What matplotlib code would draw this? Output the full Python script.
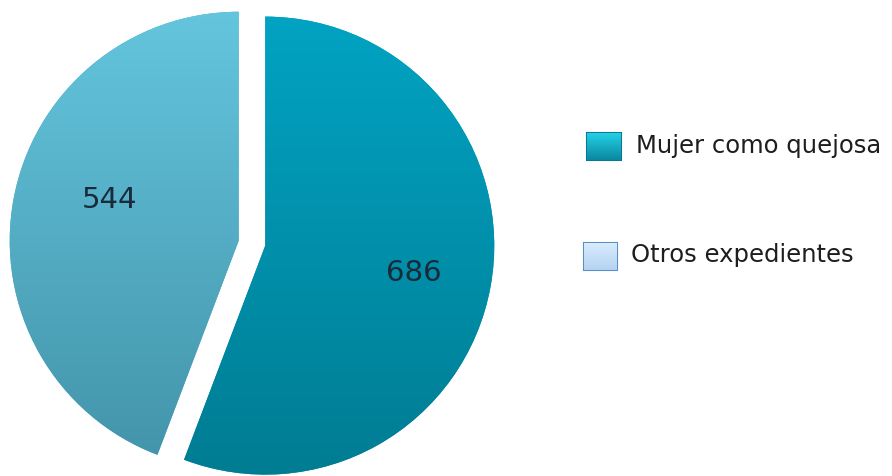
import numpy as np
import matplotlib
matplotlib.use("Agg")
import matplotlib.pyplot as plt
from matplotlib.colors import LinearSegmentedColormap
from matplotlib.patches import Rectangle

categories = ["Mujer como quejosa", "Otros expedientes"]
values = [686, 544]
value_labels = ["686", "544"]

W, H = 892, 476
fig = plt.figure(figsize=(W / 100, H / 100), dpi=100)
ax = fig.add_axes([0, 0, 1, 1])

top_colors = ["#02a4c4", "#64c6de"]
bot_colors = ["#007c92", "#4292a8"]
mid_colors = ["#0094b0", "#54b0c8"]

cx, cy, r = 251, H - 243, 229
wedges, _ = ax.pie(values, startangle=90, counterclock=False,
                   colors=mid_colors, center=(cx, cy), radius=r,
                   explode=[14.5, 12.5], frame=True,
                   wedgeprops=dict(linewidth=0))
ax.set_xlim(0, W)
ax.set_ylim(0, H)
ax.set_aspect("equal")
ax.axis("off")

for w, tc, bc in zip(wedges, top_colors, bot_colors):
    cmap = LinearSegmentedColormap.from_list("g", [bc, tc])
    grad = np.linspace(0, 1, 256).reshape(-1, 1)
    im = ax.imshow(grad, cmap=cmap, extent=[0, W, cy - r - 10, cy + r + 10],
                   origin="lower", aspect="auto", zorder=w.get_zorder() + 0.1)
    im.set_clip_path(w)

ax.text(414, H - 273, value_labels[0], ha="center", va="center",
        fontsize=21, color="#1a2a3a", zorder=5)
ax.text(110, H - 200, value_labels[1], ha="center", va="center",
        fontsize=21, color="#1a2a3a", zorder=5)

# legend
sq = [(587, 133, 34, 27), (584, 243, 33, 27)]
sq_top = ["#22d0e6", "#d8ecfc"]
sq_bot = ["#0a88a0", "#b4d2f2"]
sq_edge = ["#0a7890", "#5b8ec4"]
txt_pos = [(636, 146), (631, 255)]
for (x, y, w_, h_), tc, bc, ec, (tx, ty), lab in zip(sq, sq_top, sq_bot, sq_edge, txt_pos, categories):
    rect = Rectangle((x, H - y - h_), w_, h_, facecolor=bc, edgecolor=ec, linewidth=1.5, zorder=4)
    ax.add_patch(rect)
    cmap = LinearSegmentedColormap.from_list("s", [bc, tc])
    grad = np.linspace(0, 1, 64).reshape(-1, 1)
    im = ax.imshow(grad, cmap=cmap, extent=[x, x + w_, H - y - h_, H - y],
                   origin="lower", aspect="auto", zorder=4.1)
    im.set_clip_path(rect)
    ax.text(tx, H - ty, lab, ha="left", va="center", fontsize=17.5, color="#1e1e1e", zorder=5)

ax.set_xlim(0, W)
ax.set_ylim(0, H)
fig.savefig("out.png", dpi=100)
